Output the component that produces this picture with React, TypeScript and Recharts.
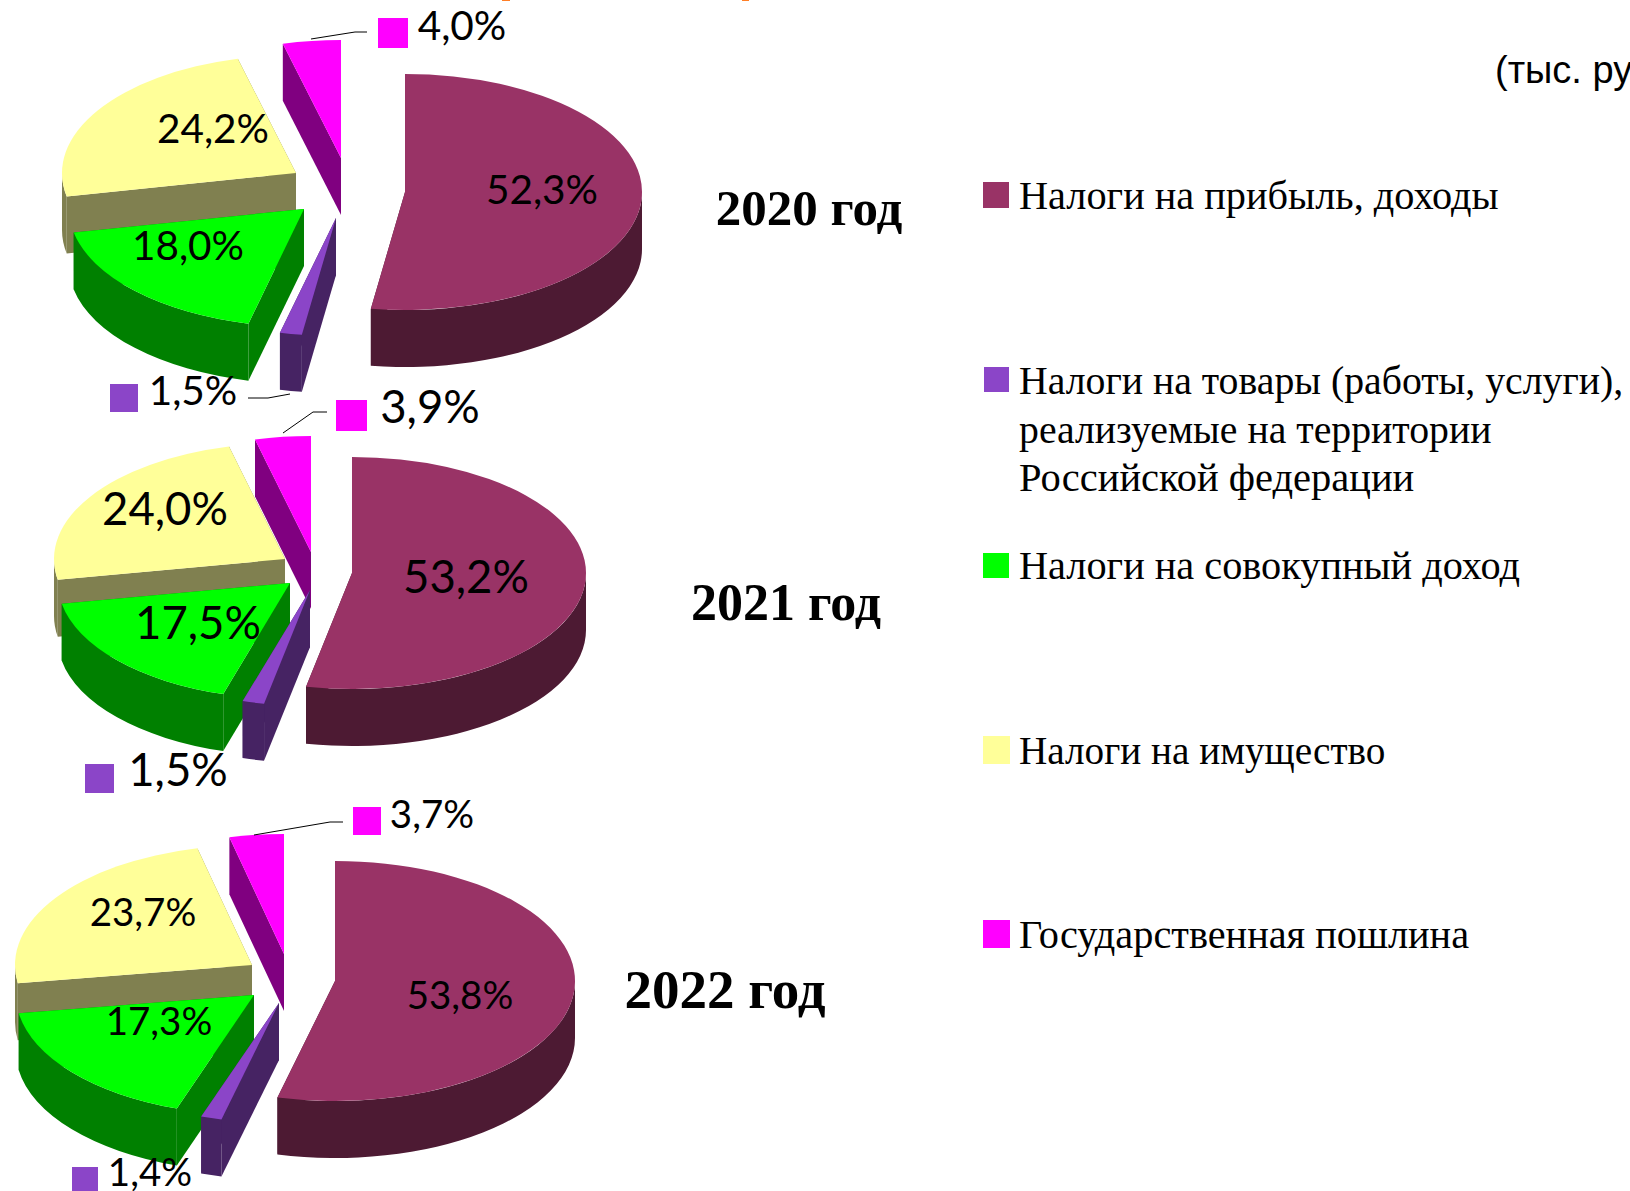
import React from 'react';
import { PieChart, Pie } from 'recharts';

const categories = [
  'Налоги на прибыль, доходы',
  'Налоги на товары (работы, услуги), реализуемые на территории Российской федерации',
  'Налоги на совокупный доход',
  'Налоги на имущество',
  'Государственная пошлина',
];
const values2020 = [52.3, 1.5, 18.0, 24.2, 4.0];
const values2021 = [53.2, 1.5, 17.5, 24.0, 3.9];
const values2022 = [53.8, 1.4, 17.3, 23.7, 3.7];

const topColors = ['#993366', '#8B45C8', '#00FF00', '#FFFF99', '#FF00FF'];
const wallColors = ['#4D1A33', '#462363', '#008000', '#808050', '#800080'];
const radiusTrim = [0, 0, 2, 3, 3];

type Year = {
  title: string; values: number[]; cx: number; cy: number; rx: number; ry: number; depth: number;
  apex: number[][]; labels: number[][]; font: number; titlePos: number[]; titleFont: number;
  markers: Record<number, number[]>; leaders: Record<number, number[][]>;
};

const years: Year[] = [
  {
    title: '2020 год', values: values2020, cx: 405, cy: 192, rx: 237, ry: 118, depth: 57,
    apex: [[405, 192], [336, 218], [304, 209], [296, 173], [341, 158]],
    labels: [[542, 188], [193, 389], [188, 244], [213, 127], [462, 24]],
    font: 40.5, titlePos: [809, 208], titleFont: 51,
    markers: { 1: [110, 384, 28, 28], 4: [378, 18, 30, 30] },
    leaders: { 1: [[248, 398], [268, 398], [290, 394]], 4: [[311, 39], [355, 32], [367, 32]] },
  },
  {
    title: '2021 год', values: values2021, cx: 352, cy: 573, rx: 234, ry: 116, depth: 57,
    apex: [[352, 573], [310, 590], [290, 583], [285, 559], [311, 552]],
    labels: [[466, 575], [178, 768], [198, 621], [165, 507], [430, 405]],
    font: 45.5, titlePos: [786, 603], titleFont: 52,
    markers: { 1: [85, 764, 29, 29], 4: [336, 400, 31, 31] },
    leaders: { 4: [[283, 433], [313, 412], [327, 412]] },
  },
  {
    title: '2022 год', values: values2022, cx: 335, cy: 982, rx: 240, ry: 120, depth: 57,
    apex: [[335, 981], [279, 1003], [254, 995], [252, 965], [284, 954]],
    labels: [[460, 994], [150, 1171], [159, 1020], [143, 911], [432, 813]],
    font: 38.5, titlePos: [725, 990], titleFont: 55,
    markers: { 1: [72, 1167, 26, 28], 4: [353, 807, 28, 28] },
    leaders: { 4: [[254, 835], [330, 822], [343, 822]] },
  },
];

const legendLines = [
  ['Налоги на прибыль, доходы'],
  ['Налоги на товары (работы, услуги),', 'реализуемые на территории', 'Российской федерации'],
  ['Налоги на совокупный доход'],
  ['Налоги на имущество'],
  ['Государственная пошлина'],
];
const legendFonts = [[40.3], [39.75, 39.75, 40.5], [40.3], [39.2], [40.3]];
const legendBoxes = [
  [983, 182, 26, 26],
  [984, 367, 25, 25],
  [983, 553, 26, 25],
  [983, 736, 27, 28],
  [983, 920, 27, 28],
];
const legendTextY = [196, 381, 566, 751, 935];

const rad = (d: number) => (d * Math.PI) / 180;

function makeShape(y: Year) {
  return (props: any) => {
    const cat: number = props.cat ?? props.payload?.cat;
    const ax = y.apex[cat][0];
    const ay = y.apex[cat][1];
    const s: number = props.startAngle;
    const e: number = props.endAngle;
    const lo = Math.min(s, e);
    const hi = Math.max(s, e);
    const rx = y.rx - radiusTrim[cat];
    const p = (a: number) => [ax + rx * Math.cos(rad(a)), ay - y.ry * Math.sin(rad(a))];
    const d = y.depth;
    const [x0, y0] = p(lo);
    const [x1, y1] = p(hi);
    const large = hi - lo > 180 ? 1 : 0;
    const top = `M${ax},${ay} L${x0},${y0} A${rx},${y.ry} 0 ${large} 0 ${x1},${y1} Z`;
    const faceA = `M${ax},${ay} L${x0},${y0} L${x0},${y0 + d} L${ax},${ay + d} Z`;
    const faceB = `M${ax},${ay} L${x1},${y1} L${x1},${y1 + d} L${ax},${ay + d} Z`;
    const a0 = Math.max(lo, 180);
    const a1 = Math.min(hi, 360);
    let rim = '';
    if (a1 > a0) {
      const [rx0, ry0] = p(a0);
      const [rx1, ry1] = p(a1);
      rim = `M${rx0},${ry0} A${rx},${y.ry} 0 0 0 ${rx1},${ry1} L${rx1},${ry1 + d} A${rx},${y.ry} 0 0 1 ${rx0},${ry0 + d} Z`;
    }
    const wall = wallColors[cat];
    return (
      <g>
        <path d={faceA} fill={wall} />
        <path d={faceB} fill={wall} />
        {rim && <path d={rim} fill={wall} />}
        <path d={top} fill={topColors[cat]} />
      </g>
    );
  };
}

function makeLabel(y: Year) {
  return (props: any) => {
    const cat: number = props.cat ?? props.payload?.cat;
    const pos = y.labels[cat];
    const m = y.markers[cat];
    const l = y.leaders[cat];
    return (
      <g>
        {l && <polyline points={l.map((q) => q.join(',')).join(' ')} fill="none" stroke="#000" strokeWidth={1} />}
        {m && <rect x={m[0]} y={m[1]} width={m[2]} height={m[3]} fill={topColors[cat]} />}
        <text
          x={pos[0]}
          y={pos[1]}
          textAnchor="middle"
          dominantBaseline="central"
          fontFamily="Lato"
          fontSize={y.font}
          fill="#000"
        >
          {Number(props.value).toFixed(1).replace('.', ',') + '%'}
        </text>
      </g>
    );
  };
}

export default function App() {
  return (
    <div style={{ position: 'absolute', left: 0, top: 0, width: 1630, height: 1191, overflow: 'hidden', background: '#fff' }}>
      <div style={{ position: 'absolute', left: 502, top: 0, width: 8, height: 1, background: '#FF7F27' }} />
      <div style={{ position: 'absolute', left: 742, top: 0, width: 7, height: 1, background: '#FF7F27' }} />
      <PieChart width={1630} height={1191} margin={{ top: 0, right: 0, bottom: 0, left: 0 }}>
        {years.map((y) => {
          const data = categories.map((name, i) => ({ name, value: y.values[i], cat: i })).reverse();
          const shape = makeShape(y);
          return (
            <Pie
              key={y.title}
              data={data}
              dataKey="value"
              nameKey="name"
              cx={y.cx}
              cy={y.cy}
              innerRadius={0}
              outerRadius={y.rx}
              startAngle={90}
              endAngle={450}
              isAnimationActive={false}
              shape={shape}
              activeShape={shape}
              inactiveShape={shape}
              label={makeLabel(y)}
              labelLine={false}
              stroke="none"
            />
          );
        })}
      </PieChart>
      {years.map((y) => (
        <div
          key={y.title}
          style={{
            position: 'absolute', left: y.titlePos[0] - 200, top: y.titlePos[1] - 40, width: 400, height: 80,
            lineHeight: '80px', textAlign: 'center', fontFamily: 'Liberation Serif', fontWeight: 700,
            fontSize: y.titleFont, color: '#000',
          }}
        >
          {y.title}
        </div>
      ))}
      <div style={{ position: 'absolute', left: 1495, top: 44, fontFamily: 'Liberation Sans', fontSize: 38, lineHeight: '52px', whiteSpace: 'nowrap', color: '#000' }}>
        (тыс. руб.)
      </div>
      {legendLines.map((lines, i) => (
        <React.Fragment key={i}>
          <div style={{ position: 'absolute', left: legendBoxes[i][0], top: legendBoxes[i][1], width: legendBoxes[i][2], height: legendBoxes[i][3], background: topColors[i] }} />
          {lines.map((t, j) => (
            <div
              key={j}
              style={{
                position: 'absolute', left: 1019, top: legendTextY[i] + j * 48.5 - 25, lineHeight: '50px', whiteSpace: 'nowrap',
                fontFamily: 'Liberation Serif', fontSize: legendFonts[i][j], color: '#000',
              }}
            >
              {t}
            </div>
          ))}
        </React.Fragment>
      ))}
    </div>
  );
}
